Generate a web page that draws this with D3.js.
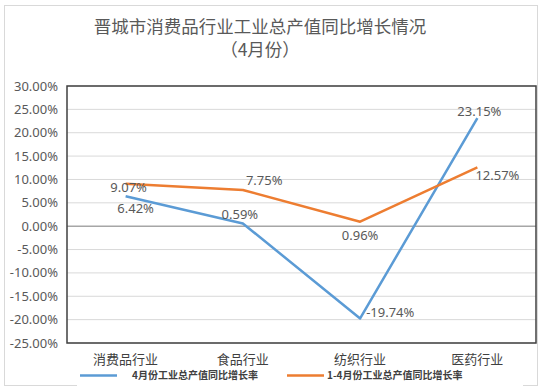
<!DOCTYPE html>
<html>
<head>
<meta charset="utf-8">
<script src="https://cdn.jsdelivr.net/npm/d3@7"></script>
<style>
  body { margin: 0; background: #fff; }
  text { font-family: "Noto Sans", "Noto Sans CJK SC", sans-serif; }
</style>
</head>
<body>
<div id="chart"></div>
<script>
// Data
const categories = ["消费品行业", "食品行业", "纺织行业", "医药行业"];
const monthGrowth = [6.42, 0.59, -19.74, 23.15];   // 4月份
const ytdGrowth = [9.07, 7.75, 0.96, 12.57];        // 1-4月份
const yTicks = [30, 25, 20, 15, 10, 5, 0, -5, -10, -15, -20, -25];
const seriesNames = ["4月份工业总产值同比增长率", "1-4月份工业总产值同比增长率"];

const width = 542;
const height = 391;
const margin = {top: 86, right: 6, bottom: 48, left: 67};

const svg = d3.select("#chart").append("svg")
    .attr("width", width)
    .attr("height", height);

// outer frame
svg.append("rect")
    .attr("x", 4.5).attr("y", 5.5)
    .attr("width", 533).attr("height", 380)
    .attr("fill", "#fff")
    .attr("stroke", "#d9d9d9");

// Title
svg.append("text")
    .attr("x", 260).attr("y", 33)
    .attr("text-anchor", "middle")
    .style("font-family", "'Noto Sans CJK SC'")
    .style("font-size", "17.5px")
    .attr("fill", "#595959")
    .text("晋城市消费品行业工业总产值同比增长情况");
svg.append("text")
    .attr("x", 260).attr("y", 56)
    .attr("text-anchor", "middle")
    .style("font-family", "'Noto Sans CJK SC'")
    .style("font-size", "17.5px")
    .attr("fill", "#595959")
    .text("（4月份）");

// Scales
const x = d3.scaleBand()
    .domain(categories)
    .range([margin.left, width - margin.right]);

const y = d3.scaleLinear()
    .domain([-25, 30])
    .range([height - margin.bottom, margin.top]);

// Gridlines
svg.append("g")
    .selectAll("line")
    .data(yTicks)
    .join("line")
    .attr("x1", margin.left)
    .attr("x2", width - margin.right)
    .attr("y1", d => y(d))
    .attr("y2", d => y(d))
    .attr("stroke", d => d === 0 ? "#a6a6a6" : "#d9d9d9")
    .attr("stroke-width", d => d === 0 ? 1.5 : 1);

// Y-axis labels
svg.append("g")
    .selectAll("text")
    .data(yTicks)
    .join("text")
    .attr("x", margin.left - 9)
    .attr("y", d => y(d))
    .attr("dy", "0.35em")
    .attr("text-anchor", "end")
    .style("font-size", "13px")
    .attr("fill", "#595959")
    .text(d => d.toFixed(2) + "%");

// Plot border
svg.append("rect")
    .attr("x", margin.left)
    .attr("y", margin.top)
    .attr("width", width - margin.right - margin.left)
    .attr("height", height - margin.bottom - margin.top)
    .attr("fill", "none")
    .attr("stroke", "#404040")
    .attr("stroke-width", 1.5);

// X-axis labels
svg.append("g")
    .selectAll("text")
    .data(categories)
    .join("text")
    .attr("x", d => x(d) + x.bandwidth() / 2)
    .attr("y", 364)
    .attr("text-anchor", "middle")
    .style("font-family", "'Noto Sans CJK SC'")
    .style("font-size", "13px")
    .attr("fill", "#404040")
    .text(d => d);

const colors = ["#5B9BD5", "#ED7D31"];
const cx = i => x(categories[i]) + x.bandwidth() / 2;

const line = d3.line()
    .x((d, i) => cx(i))
    .y(d => y(d));

[monthGrowth, ytdGrowth].forEach((s, k) => {
    svg.append("path")
        .datum(s)
        .attr("d", line)
        .attr("fill", "none")
        .attr("stroke", colors[k])
        .attr("stroke-width", 2.5)
        .attr("stroke-linejoin", "round");
});

// Data labels (offsets relative to point)
const monthLabelPos = [[10, 12, "middle"], [-3, -9, "middle"], [6, -6, "start"], [2, -7, "middle"]];
const ytdLabelPos = [[3, 4, "middle"], [3, -10, "start"], [0, 14, "middle"], [-2, 8, "start"]];

function drawLabels(s, pos) {
    svg.append("g")
        .selectAll("text")
        .data(s)
        .join("text")
        .attr("x", (d, i) => cx(i) + pos[i][0])
        .attr("y", (d, i) => y(d) + pos[i][1])
        .attr("dy", "0.35em")
        .attr("text-anchor", (d, i) => pos[i][2])
        .style("font-size", "13px")
        .attr("fill", "#595959")
        .text(d => d.toFixed(2) + "%");
}
drawLabels(monthGrowth, monthLabelPos);
drawLabels(ytdGrowth, ytdLabelPos);

// Legend
const legend = svg.append("g");
legend.append("rect")
    .attr("x", 77).attr("y", 367)
    .attr("width", 446).attr("height", 24)
    .attr("fill", "#fff");

const legendX = [[80, 132], [287, 327]];
seriesNames.forEach((name, k) => {
    legend.append("line")
        .attr("x1", legendX[k][0]).attr("x2", legendX[k][0] + 37)
        .attr("y1", 375.5).attr("y2", 375.5)
        .attr("stroke", colors[k])
        .attr("stroke-width", 2.5);
    legend.append("text")
        .attr("x", legendX[k][1])
        .attr("y", 375.5)
        .attr("dy", "0.35em")
        .style("font-family", "'Noto Sans CJK SC'")
        .style("font-size", "10px")
        .style("font-weight", "bold")
        .attr("fill", "#404040")
        .text(name);
});
</script>
</body>
</html>
